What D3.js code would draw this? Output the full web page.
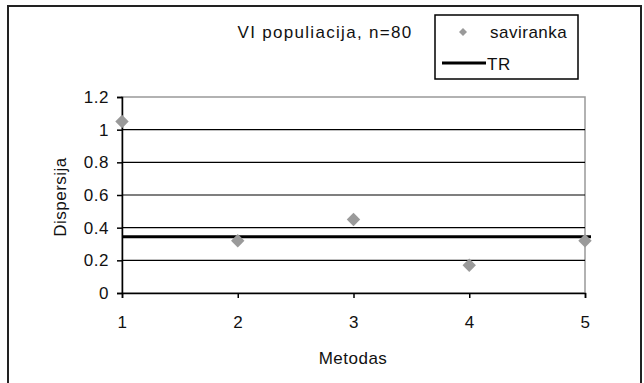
<!DOCTYPE html>
<html lang="en">
<head>
<meta charset="utf-8">
<title>Dispersija</title>
<script src="https://cdn.jsdelivr.net/npm/d3@7"></script>
<style>
  body { margin: 0; background: #fff; }
  text { font-family: Arial, "Liberation Sans", sans-serif; fill: #111; letter-spacing: 0.5px; }
</style>
</head>
<body>
<script>
// data
var metodas = [1, 2, 3, 4, 5];
var saviranka = [1.05, 0.32, 0.45, 0.17, 0.32];
var trValue = 0.345;
var yTicks = [0, 0.2, 0.4, 0.6, 0.8, 1, 1.2];
var yTickLabels = ["0", "0.2", "0.4", "0.6", "0.8", "1", "1.2"];

var W = 644, H = 383;
var plotL = 122, plotR = 585, plotT = 97, plotB = 293;
var fs = 17;

var svg = d3.select("body").append("svg")
  .attr("width", W).attr("height", H);

// outer frame
svg.append("rect")
  .attr("x", 8).attr("y", 6).attr("width", 633).attr("height", 390)
  .attr("fill", "#fff").attr("stroke", "#222").attr("stroke-width", 2);

var x = d3.scaleLinear().domain([1, 5]).range([plotL, plotR]);
var y = d3.scaleLinear().domain([0, 1.2]).range([plotB, plotT]);

// plot area border (gray)
svg.append("rect")
  .attr("x", plotL).attr("y", plotT)
  .attr("width", plotR - plotL).attr("height", plotB - plotT)
  .attr("fill", "none").attr("stroke", "#999").attr("stroke-width", 1.5);

// gridlines
svg.selectAll("line.grid")
  .data(yTicks.filter(function(d) { return d > 0 && d < 1.2; }))
  .enter().append("line")
  .attr("class", "grid")
  .attr("x1", plotL).attr("x2", plotR)
  .attr("y1", function(d) { return y(d); })
  .attr("y2", function(d) { return y(d); })
  .attr("stroke", "#000").attr("stroke-width", 1.2);

// y axis
var yAxis = d3.axisLeft(y).tickValues(yTicks).tickSize(5).tickPadding(8)
  .tickFormat(function(d, i) { return yTickLabels[i]; });
var gy = svg.append("g").attr("transform", "translate(" + plotL + ",0)").call(yAxis);
gy.select(".domain").attr("stroke", "#000").attr("stroke-width", 1.5);
gy.selectAll(".tick line").attr("stroke", "#000").attr("stroke-width", 1.5);
gy.selectAll("text").attr("font-size", fs).attr("font-family", "Arial, 'Liberation Sans', sans-serif").attr("fill", "#111");

// x axis
var xAxis = d3.axisBottom(x).tickValues(metodas).tickSize(5).tickPadding(18)
  .tickFormat(d3.format("d"));
var gx = svg.append("g").attr("transform", "translate(0," + plotB + ")").call(xAxis);
gx.select(".domain").attr("stroke", "#000").attr("stroke-width", 1.5);
gx.selectAll(".tick line").attr("stroke", "#000").attr("stroke-width", 1.5);
gx.selectAll("text").attr("font-size", fs).attr("font-family", "Arial, 'Liberation Sans', sans-serif").attr("fill", "#111");

// TR line
svg.append("line")
  .attr("x1", plotL).attr("x2", plotR + 6)
  .attr("y1", y(trValue)).attr("y2", y(trValue))
  .attr("stroke", "#000").attr("stroke-width", 3);

// points (square rotated 45 deg)
var diamond = d3.symbol().type(d3.symbolSquare).size(90);
svg.selectAll("path.pt")
  .data(saviranka)
  .enter().append("path")
  .attr("class", "pt")
  .attr("d", diamond)
  .attr("transform", function(d, i) {
    return "translate(" + x(metodas[i]) + "," + y(d) + ") rotate(45)";
  })
  .attr("fill", "#9a9a9a");

// axis titles
svg.append("text")
  .attr("x", 353).attr("y", 364)
  .attr("text-anchor", "middle").attr("font-size", fs)
  .text("Metodas");

svg.append("text")
  .attr("transform", "translate(66,197) rotate(-90)")
  .attr("text-anchor", "middle").attr("font-size", fs)
  .text("Dispersija");

// title
svg.append("text")
  .attr("x", 325).attr("y", 38)
  .attr("text-anchor", "middle").attr("font-size", fs)
  .style("letter-spacing", "1.3px")
  .text("VI populiacija, n=80");

// legend
var lg = svg.append("g");
lg.append("rect")
  .attr("x", 435).attr("y", 15).attr("width", 143).attr("height", 64)
  .attr("fill", "#fff").attr("stroke", "#000").attr("stroke-width", 1.5);
lg.append("path")
  .attr("d", d3.symbol().type(d3.symbolSquare).size(32))
  .attr("transform", "translate(463,32) rotate(45)")
  .attr("fill", "#9a9a9a");
lg.append("text").attr("x", 490).attr("y", 38).attr("font-size", fs).text("saviranka");
lg.append("line")
  .attr("x1", 442).attr("x2", 486).attr("y1", 63).attr("y2", 63)
  .attr("stroke", "#000").attr("stroke-width", 3);
lg.append("text").attr("x", 487).attr("y", 70).attr("font-size", fs).text("TR");
</script>
</body>
</html>
